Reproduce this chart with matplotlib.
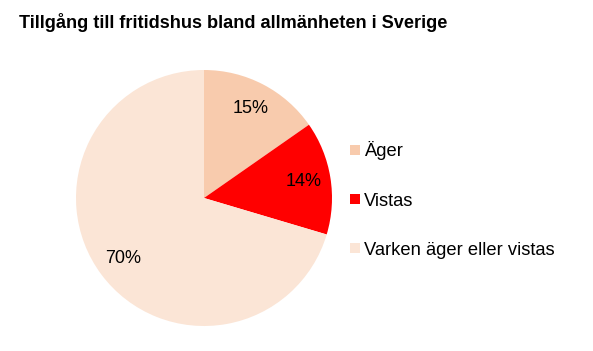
import matplotlib.pyplot as plt

plt.rcParams['font.family'] = ['Liberation Sans', 'DejaVu Sans']

# data
labels = ["Äger", "Vistas", "Varken äger eller vistas"]
values = [15.3, 14.3, 70.4]
colors = ["#F8CBAD", "#FF0000", "#FBE5D6"]

fig = plt.figure(figsize=(5.93, 3.51), dpi=100)
fig.text(19 / 593, 1 - 22 / 351, "Tillgång till fritidshus bland allmänheten i Sverige",
         fontsize=13.1, fontweight="bold", va="center", ha="left")

ax = fig.add_axes([76 / 593, 25 / 351, 256 / 593, 256 / 351])
wedges, texts, autotexts = ax.pie(values, colors=colors, startangle=90, counterclock=False,
                                  autopct=lambda p: f"{p:.0f}%", pctdistance=0.79,
                                  radius=1, textprops={"fontsize": 13})
ax.set_xlim(-1, 1)
ax.set_ylim(-1, 1)
ax.set_aspect("equal")

fig.legend(wedges, labels, loc="center left", bbox_to_anchor=(343 / 593, 1 - 200 / 351),
           frameon=False, fontsize=13.2, handlelength=0.5, handleheight=0.5,
           handletextpad=0.25, labelspacing=1.75, borderaxespad=0)

plt.savefig("out.png", dpi=100)
plt.close()
